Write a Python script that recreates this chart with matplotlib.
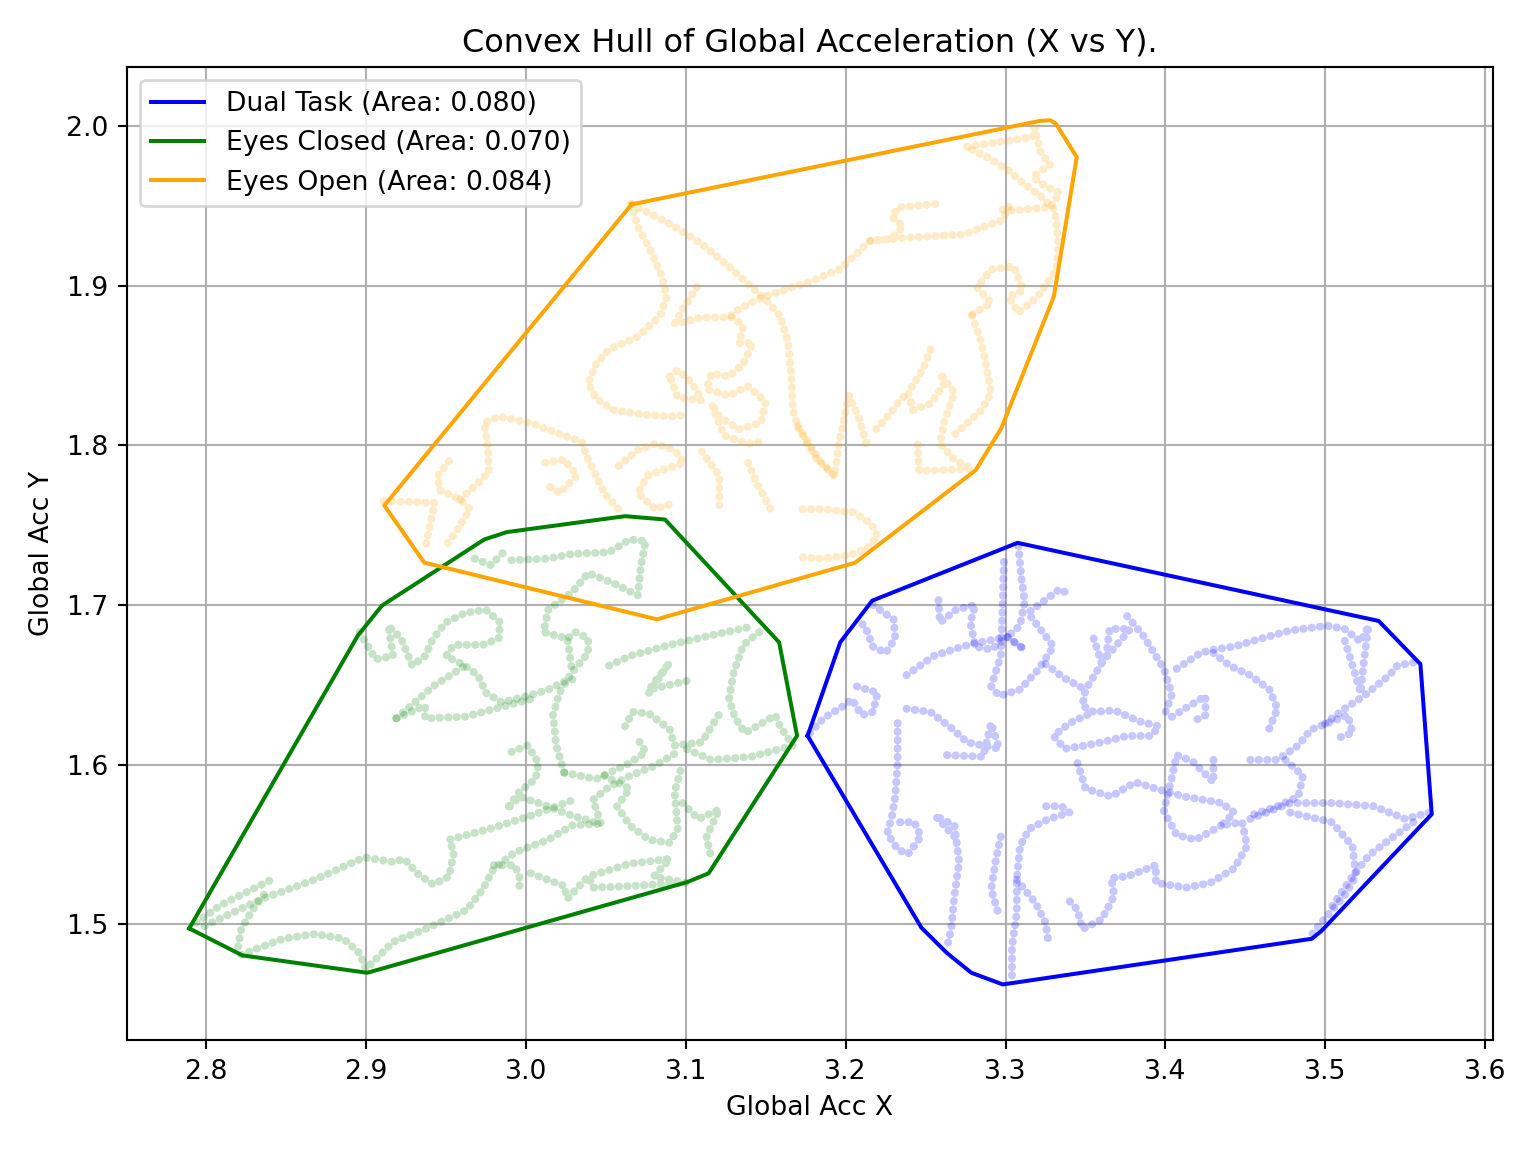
import matplotlib
matplotlib.use("Agg")
import matplotlib.pyplot as plt

# ---------------- data ----------------
groups = ["Dual Task", "Eyes Closed", "Eyes Open"]
colors = ["blue", "green", "orange"]
areas = [0.080, 0.070, 0.084]

# convex hull vertices (closed)
dual_hull_x = [3.1762, 3.1966, 3.2166, 3.3075, 3.5333, 3.5594, 3.5665, 3.4974, 3.4915,
               3.2983, 3.2786, 3.2632, 3.2474, 3.1762]
dual_hull_y = [1.6181, 1.6766, 1.7027, 1.7389, 1.6900, 1.6630, 1.5690, 1.4958, 1.4910,
               1.4624, 1.4697, 1.4822, 1.4979, 1.6181]

closed_hull_x = [2.7895, 2.8227, 2.9008, 3.1010, 3.1143, 3.1696, 3.1584, 3.0870, 3.0620,
                 2.9880, 2.9740, 2.9100, 2.8949, 2.7895]
closed_hull_y = [1.4975, 1.4806, 1.4697, 1.5265, 1.5320, 1.6181, 1.6766, 1.7535, 1.7556,
                 1.7456, 1.7410, 1.6996, 1.6808, 1.4975]

open_hull_x = [3.0661, 3.3215, 3.3278, 3.3315, 3.3445, 3.3302, 3.2974, 3.2813, 3.2060,
               3.0819, 2.9365, 2.9115, 3.0661]
open_hull_y = [1.9508, 2.0031, 2.0035, 2.0013, 1.9804, 1.8931, 1.8108, 1.7844, 1.7265,
               1.6910, 1.7265, 1.7623, 1.9508]

x_limits = [2.7506, 3.6048]
y_limits = [1.4276, 2.0368]

dual_trails_x = [
    [3.217, 3.230, 3.231, 3.225, 3.217, 3.212, 3.207],
    [3.2325, 3.2325, 3.231, 3.229, 3.226, 3.2325, 3.239, 3.247, 3.243, 3.2325],
    [3.207, 3.220, 3.217, 3.210, 3.204, 3.199, 3.186, 3.176],
    [3.238, 3.253, 3.266, 3.276, 3.286, 3.296, 3.291, 3.286, 3.263],
    [3.238, 3.255, 3.273, 3.286, 3.301, 3.312],
    [3.258, 3.259, 3.269, 3.281, 3.278, 3.281, 3.291, 3.301, 3.312],
    [3.308, 3.310, 3.312, 3.309, 3.301],
    [3.299, 3.298, 3.297, 3.291, 3.296, 3.309, 3.320, 3.330, 3.314, 3.334, 3.339],
    [3.325, 3.337, 3.350, 3.348, 3.355, 3.368, 3.384, 3.396, 3.391, 3.376, 3.360, 3.350,
     3.337, 3.330, 3.340, 3.355],
    [3.355, 3.360, 3.373, 3.378, 3.365, 3.363, 3.350],
    [3.376, 3.386, 3.399, 3.404, 3.399],
    [3.345, 3.350, 3.366, 3.381, 3.394, 3.412, 3.435, 3.443, 3.435, 3.448, 3.451, 3.443,
     3.428, 3.413, 3.394, 3.394, 3.376, 3.366, 3.368, 3.360, 3.348, 3.345, 3.337],
    [3.304, 3.304, 3.307, 3.307, 3.309, 3.315, 3.327, 3.340, 3.335, 3.324],
    [3.307, 3.319, 3.325, 3.327],
    [3.268, 3.256, 3.268, 3.271, 3.268, 3.266, 3.263],
    [3.297, 3.294, 3.291, 3.296],
    [3.407, 3.422, 3.430, 3.443, 3.460, 3.478, 3.501, 3.512, 3.522, 3.527, 3.524, 3.522,
     3.517, 3.512],
    [3.430, 3.440, 3.453, 3.465, 3.470, 3.463],
    [3.404, 3.412, 3.425, 3.425, 3.417],
    [3.453, 3.470, 3.483, 3.491, 3.504, 3.514, 3.517, 3.506],
    [3.475, 3.486, 3.483, 3.470, 3.453],
    [3.453, 3.478, 3.504, 3.530, 3.550, 3.565],
    [3.478, 3.504, 3.517, 3.519, 3.512, 3.499, 3.491],
    [3.555, 3.545, 3.540, 3.524, 3.512, 3.499],
    [3.555, 3.540, 3.527, 3.514, 3.504],
    [3.430, 3.430, 3.417, 3.407, 3.404, 3.399, 3.407, 3.419, 3.435],
]
dual_trails_y = [
    [1.700, 1.691, 1.679, 1.670, 1.674, 1.687, 1.690],
    [1.626, 1.601, 1.580, 1.568, 1.557, 1.547, 1.544, 1.555, 1.564, 1.564],
    [1.649, 1.645, 1.633, 1.631, 1.641, 1.637, 1.629, 1.618],
    [1.635, 1.633, 1.623, 1.614, 1.612, 1.610, 1.626, 1.605, 1.606],
    [1.656, 1.668, 1.674, 1.677, 1.680, 1.672],
    [1.703, 1.689, 1.697, 1.700, 1.689, 1.674, 1.672, 1.680, 1.672],
    [1.737, 1.716, 1.702, 1.687, 1.680],
    [1.727, 1.695, 1.668, 1.649, 1.643, 1.647, 1.659, 1.674, 1.695, 1.710, 1.707],
    [1.663, 1.654, 1.647, 1.637, 1.633, 1.634, 1.627, 1.624, 1.618, 1.618, 1.614, 1.612,
     1.610, 1.618, 1.626, 1.633],
    [1.679, 1.664, 1.679, 1.685, 1.685, 1.668, 1.647],
    [1.693, 1.681, 1.660, 1.644, 1.630],
    [1.601, 1.585, 1.580, 1.589, 1.585, 1.580, 1.576, 1.570, 1.562, 1.564, 1.549, 1.535,
     1.526, 1.523, 1.526, 1.537, 1.530, 1.529, 1.518, 1.503, 1.497, 1.509, 1.518],
    [1.468, 1.486, 1.507, 1.528, 1.549, 1.560, 1.566, 1.570, 1.574, 1.574],
    [1.528, 1.513, 1.501, 1.488],
    [1.555, 1.568, 1.562, 1.539, 1.518, 1.497, 1.484],
    [1.555, 1.541, 1.522, 1.505],
    [1.660, 1.670, 1.672, 1.674, 1.679, 1.684, 1.687, 1.685, 1.677, 1.687, 1.664, 1.645,
     1.662, 1.678],
    [1.670, 1.662, 1.656, 1.647, 1.635, 1.618],
    [1.630, 1.635, 1.643, 1.631, 1.627],
    [1.603, 1.603, 1.612, 1.622, 1.627, 1.631, 1.620, 1.616],
    [1.603, 1.593, 1.580, 1.574, 1.568],
    [1.566, 1.576, 1.576, 1.574, 1.566, 1.570],
    [1.570, 1.564, 1.549, 1.530, 1.518, 1.503, 1.493],
    [1.664, 1.662, 1.656, 1.643, 1.635, 1.625],
    [1.564, 1.553, 1.543, 1.526, 1.511],
    [1.603, 1.589, 1.602, 1.606, 1.592, 1.571, 1.556, 1.553, 1.562],
]

closed_trails_x = [
    [2.794, 2.809, 2.825, 2.841],
    [2.820, 2.822, 2.829, 2.838],
    [2.822, 2.848, 2.868, 2.886, 2.896, 2.900, 2.917, 2.937, 2.963, 2.973, 2.980, 2.993,
     3.014, 3.029, 3.047],
    [2.799, 2.835, 2.868, 2.899, 2.917, 2.924, 2.932, 2.942, 2.952, 2.955, 2.952, 2.978,
     3.003, 3.030],
    [2.980, 2.993, 2.996, 2.996],
    [3.003, 3.024, 3.026, 3.039, 3.042, 3.065, 3.100, 3.080, 3.090, 3.065, 3.039],
    [3.024, 3.019, 3.017, 3.021, 3.029, 3.039, 3.039, 3.031, 3.026],
    [2.896, 2.906, 2.917, 2.914, 2.922, 2.929, 2.937, 2.942, 2.950, 2.962, 2.975, 2.984,
     2.983, 2.973, 2.955, 2.950, 2.962, 2.970, 2.975, 2.985, 3.001, 3.014, 3.026, 3.034],
    [2.919, 2.937, 2.937, 2.962, 2.988, 3.003],
    [2.919, 2.942, 2.962],
    [2.968, 2.978, 2.988],
    [2.991, 3.014, 3.029, 3.052, 3.065, 3.075, 3.072, 3.070, 3.054, 3.039, 3.029, 3.014,
     3.011, 3.026, 3.029],
    [3.052, 3.065, 3.090, 3.116, 3.139],
    [3.146, 3.136, 3.130, 3.127, 3.131, 3.137, 3.141, 3.156, 3.159, 3.167, 3.141, 3.116, 3.100],
    [3.062, 3.067, 3.077, 3.090, 3.093, 3.110, 3.123],
    [3.077, 3.090, 3.077, 3.103],
    [3.049, 3.065, 3.057, 3.065, 3.077, 3.090, 3.095, 3.093, 3.098],
    [3.098, 3.108, 3.121, 3.113, 3.116],
    [2.991, 3.001, 3.008, 3.006, 2.996, 2.988, 2.996, 3.008, 3.029, 3.047, 3.042, 3.052,
     3.065, 3.080, 3.095],
    [3.024, 3.044, 3.065, 3.075, 3.070],
]
closed_trails_y = [
    [1.501, 1.512, 1.520, 1.528],
    [1.486, 1.497, 1.509, 1.521],
    [1.481, 1.491, 1.494, 1.491, 1.482, 1.472, 1.489, 1.497, 1.509, 1.522, 1.535, 1.545,
     1.553, 1.562, 1.563],
    [1.499, 1.516, 1.528, 1.542, 1.539, 1.541, 1.532, 1.525, 1.530, 1.545, 1.553, 1.560,
     1.568, 1.578],
    [1.537, 1.537, 1.530, 1.521],
    [1.532, 1.524, 1.516, 1.530, 1.523, 1.524, 1.526, 1.530, 1.541, 1.538, 1.530],
    [1.595, 1.612, 1.631, 1.645, 1.658, 1.670, 1.679, 1.683, 1.679],
    [1.683, 1.666, 1.668, 1.687, 1.679, 1.662, 1.668, 1.679, 1.689, 1.695, 1.697, 1.689,
     1.679, 1.675, 1.675, 1.668, 1.662, 1.656, 1.645, 1.639, 1.643, 1.647, 1.653, 1.654],
    [1.629, 1.637, 1.629, 1.630, 1.637, 1.641],
    [1.629, 1.649, 1.662],
    [1.729, 1.725, 1.735],
    [1.728, 1.729, 1.732, 1.733, 1.741, 1.740, 1.725, 1.706, 1.714, 1.720, 1.708, 1.697,
     1.683, 1.679, 1.658],
    [1.662, 1.668, 1.675, 1.681, 1.686],
    [1.683, 1.675, 1.658, 1.641, 1.629, 1.620, 1.622, 1.631, 1.624, 1.612, 1.605, 1.603, 1.610],
    [1.624, 1.633, 1.632, 1.622, 1.612, 1.614, 1.635],
    [1.645, 1.664, 1.647, 1.653],
    [1.593, 1.585, 1.574, 1.562, 1.553, 1.551, 1.560, 1.583, 1.601],
    [1.576, 1.566, 1.572, 1.555, 1.541],
    [1.608, 1.612, 1.601, 1.591, 1.583, 1.572, 1.580, 1.576, 1.568, 1.563, 1.578, 1.586,
     1.593, 1.599, 1.608],
    [1.595, 1.591, 1.601, 1.608, 1.616],
]

open_trails_x = [
    [3.066, 3.070, 3.078, 3.085, 3.088, 3.084, 3.070, 3.052, 3.044, 3.039, 3.044, 3.055,
     3.075, 3.093, 3.100],
    [3.066, 3.093, 3.110, 3.127, 3.139, 3.150, 3.159, 3.164, 3.166, 3.167, 3.170, 3.176,
     3.182, 3.193],
    [3.276, 3.297, 3.317, 3.318, 3.322, 3.328, 3.317, 3.325, 3.334, 3.328, 3.305, 3.294],
    [3.279, 3.291, 3.302, 3.311, 3.322, 3.331, 3.333, 3.332, 3.320, 3.308, 3.302, 3.311,
     3.305, 3.291, 3.282, 3.291, 3.279],
    [3.256, 3.233, 3.229, 3.236, 3.228, 3.215, 3.239, 3.274, 3.298, 3.303],
    [3.215, 3.207, 3.196, 3.179, 3.161, 3.144, 3.133, 3.127],
    [3.107, 3.098, 3.093, 3.110, 3.130, 3.136, 3.133, 3.142, 3.136, 3.127, 3.116, 3.113,
     3.127, 3.139, 3.150, 3.147, 3.133, 3.121, 3.116, 3.124, 3.139, 3.150],
    [3.090, 3.095, 3.104, 3.110, 3.095, 3.090],
    [2.952, 2.945, 2.946, 2.959, 2.965, 2.957, 2.950],
    [2.911, 2.943, 2.940, 2.937],
    [2.959, 2.977, 2.976, 2.974, 2.983, 3.003, 3.024, 3.035, 3.038, 3.044, 3.049, 3.058],
    [3.012, 3.024, 3.032, 3.021, 3.012],
    [3.058, 3.070, 3.081, 3.093, 3.099, 3.087, 3.076, 3.070, 3.081, 3.093],
    [3.110, 3.121, 3.121],
    [3.139, 3.144, 3.153],
    [3.170, 3.179, 3.185, 3.193, 3.196, 3.202, 3.208, 3.213],
    [3.173, 3.185, 3.205, 3.216, 3.220, 3.213, 3.202, 3.184, 3.170],
    [3.253, 3.248, 3.239, 3.242, 3.253, 3.262, 3.259, 3.268, 3.262, 3.259, 3.268, 3.279,
     3.246, 3.245],
    [3.279, 3.285, 3.288, 3.291, 3.285, 3.274, 3.265],
    [3.219, 3.228, 3.233, 3.239],
]
open_trails_y = [
    [1.951, 1.937, 1.922, 1.906, 1.893, 1.881, 1.868, 1.860, 1.851, 1.839, 1.829, 1.822,
     1.819, 1.818, 1.819],
    [1.951, 1.937, 1.926, 1.912, 1.901, 1.891, 1.881, 1.864, 1.843, 1.822, 1.812, 1.801,
     1.791, 1.781],
    [1.987, 1.990, 1.993, 1.999, 1.983, 1.976, 1.968, 1.962, 1.958, 1.949, 1.947, 1.948],
    [1.985, 1.979, 1.972, 1.964, 1.956, 1.947, 1.926, 1.910, 1.893, 1.883, 1.893, 1.897,
     1.912, 1.910, 1.899, 1.889, 1.882],
    [1.951, 1.949, 1.943, 1.937, 1.929, 1.928, 1.930, 1.932, 1.941, 1.951],
    [1.928, 1.920, 1.910, 1.903, 1.897, 1.891, 1.885, 1.880],
    [1.899, 1.885, 1.876, 1.880, 1.880, 1.874, 1.864, 1.864, 1.851, 1.843, 1.845, 1.835,
     1.831, 1.837, 1.827, 1.814, 1.810, 1.818, 1.826, 1.806, 1.801, 1.803],
    [1.843, 1.847, 1.839, 1.828, 1.830, 1.843],
    [1.790, 1.781, 1.772, 1.766, 1.760, 1.747, 1.737],
    [1.765, 1.764, 1.750, 1.735],
    [1.766, 1.783, 1.801, 1.814, 1.818, 1.814, 1.806, 1.802, 1.793, 1.781, 1.770, 1.760],
    [1.789, 1.791, 1.781, 1.770, 1.776],
    [1.787, 1.797, 1.801, 1.797, 1.789, 1.785, 1.781, 1.770, 1.760, 1.764],
    [1.796, 1.781, 1.758],
    [1.789, 1.777, 1.760],
    [1.812, 1.798, 1.789, 1.781, 1.802, 1.831, 1.818, 1.801],
    [1.760, 1.760, 1.758, 1.751, 1.743, 1.735, 1.731, 1.729, 1.730],
    [1.860, 1.847, 1.833, 1.822, 1.826, 1.839, 1.845, 1.833, 1.816, 1.801, 1.791, 1.785,
     1.784, 1.801],
    [1.881, 1.864, 1.849, 1.833, 1.822, 1.812, 1.804],
    [1.810, 1.820, 1.827, 1.833],
]

hulls_x = [dual_hull_x, closed_hull_x, open_hull_x]
hulls_y = [dual_hull_y, closed_hull_y, open_hull_y]
trails_x = [dual_trails_x, closed_trails_x, open_trails_x]
trails_y = [dual_trails_y, closed_trails_y, open_trails_y]

# ---------------- plot ----------------
fig = plt.figure(figsize=(8, 6), dpi=192)
ax = fig.add_axes([0.0827, 0.0972, 0.972 - 0.0827, 0.9418 - 0.0972])

for name, c, area, hx, hy, tx, ty in zip(groups, colors, areas, hulls_x, hulls_y,
                                         trails_x, trails_y):
    for xs, ys in zip(tx, ty):
        ax.plot(xs, ys, color=c, lw=3.0, alpha=0.22, linestyle=(0, (0.05, 1.0)),
                dash_capstyle="round")
    ax.plot(hx, hy, color=c, lw=1.5, label=f"{name} (Area: {area:.3f})")

ax.set_xlim(x_limits)
ax.set_ylim(y_limits)
ax.set_title("Convex Hull of Global Acceleration (X vs Y).")
ax.set_xlabel("Global Acc X")
ax.set_ylabel("Global Acc Y")
ax.grid(True)
ax.legend(loc="upper left")

fig.savefig("out.png", dpi=192)
